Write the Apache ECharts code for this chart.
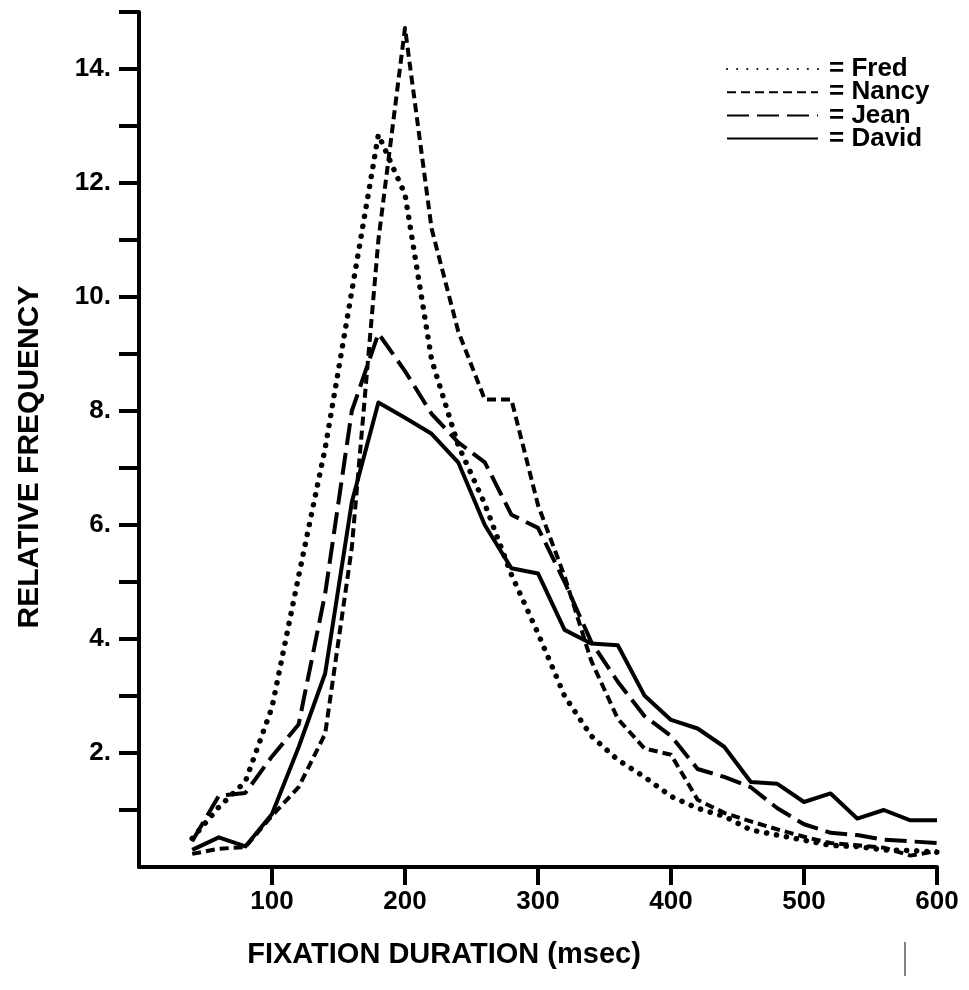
<!DOCTYPE html>
<html>
<head>
<meta charset="utf-8">
<script src="https://cdn.jsdelivr.net/npm/echarts@6/dist/echarts.min.js"></script>
<style>
html,body{margin:0;padding:0;background:#fff;}
#chart{width:969px;height:990px;}
</style>
</head>
<body>
<div id="chart"></div>
<script>
// Fixation duration (msec), 20 ms bins
var durations = [40,60,80,100,120,140,160,180,200,220,240,260,280,300,320,340,360,380,400,420,440,460,480,500,520,540,560,580,600];

var fred  = [0.5,1.05,1.5,2.8,5.1,7.35,10.1,12.85,11.8,8.9,7.4,6.37,5.13,4.1,3.0,2.3,1.88,1.58,1.24,1.03,0.89,0.65,0.56,0.47,0.38,0.36,0.3,0.29,0.26];
var nancy = [0.23,0.32,0.35,0.9,1.4,2.34,5.6,11.0,14.72,11.2,9.4,8.2,8.2,6.35,5.1,3.62,2.6,2.08,1.97,1.18,0.95,0.8,0.66,0.53,0.42,0.38,0.34,0.2,0.28];
var jean  = [0.45,1.25,1.3,1.94,2.5,4.8,8.0,9.36,8.7,7.95,7.45,7.1,6.18,5.95,5.0,3.95,3.25,2.65,2.3,1.72,1.58,1.4,1.03,0.75,0.6,0.56,0.48,0.45,0.42];
var david = [0.3,0.52,0.36,0.93,2.1,3.4,6.4,8.15,7.88,7.6,7.1,6.0,5.24,5.15,4.16,3.92,3.89,3.01,2.58,2.43,2.11,1.49,1.46,1.14,1.29,0.85,1.0,0.82,0.82];

var xTickValues = [100,200,300,400,500,600];
var yTickValues = [1,2,3,4,5,6,7,8,9,10,11,12,13,14,15];
var yLabelValues = [2,4,6,8,10,12,14];

var seriesNames = ['Fred','Nancy','Jean','David'];

function pairs(xs, ys){ return xs.map(function(x,i){ return [x, ys[i]]; }); }

var FONT = '"Liberation Sans", Arial, Helvetica, sans-serif';

var chart = echarts.init(document.getElementById('chart'), null, {renderer:'canvas'});

var option = {
  backgroundColor: '#ffffff',
  animation: false,
  grid: { left: 139, right: 32, top: 12, bottom: 123 },
  legend: {
    orient: 'vertical',
    left: 721,
    top: 51,
    itemWidth: 91,
    itemHeight: 14,
    itemGap: -2.8,
    itemStyle: { opacity: 0, borderWidth: 0 },
    formatter: function(n){ return '= ' + n; },
    textStyle: { fontFamily: FONT, fontWeight: 'bold', fontSize: 26, color: '#000', lineHeight: 23, padding: [0,0,0,6] },
    data: seriesNames
  },
  xAxis: {
    type: 'value',
    min: 0, max: 600, interval: 100,
    splitLine: { show: false },
    axisLine: { show: true, lineStyle: { color: '#000', width: 4 } },
    axisTick: { show: true, length: 18, lineStyle: { color: '#000', width: 4 }, customValues: xTickValues },
    axisLabel: { customValues: xTickValues, margin: 22, fontFamily: FONT, fontWeight: 'bold', fontSize: 26, color: '#000' }
  },
  yAxis: {
    type: 'value',
    min: 0, max: 15, interval: 1,
    splitLine: { show: false },
    axisLine: { show: true, lineStyle: { color: '#000', width: 4 } },
    axisTick: { show: true, length: 20, lineStyle: { color: '#000', width: 4 }, customValues: yTickValues },
    axisLabel: { customValues: yLabelValues, margin: 28, fontFamily: FONT, fontWeight: 'bold', fontSize: 26, color: '#000',
      formatter: function(v){ return v + '.'; } }
  },
  graphic: [
    { type: 'text', x: 444, y: 955, style: { text: 'FIXATION DURATION (msec)', align: 'center', verticalAlign: 'middle',
      font: 'bold 29px ' + FONT, fill: '#000' } },
    { type: 'text', x: 30, y: 457, rotation: Math.PI / 2, style: { text: 'RELATIVE FREQUENCY', align: 'center', verticalAlign: 'middle',
      font: 'bold 30px ' + FONT, fill: '#000' } },
    { type: 'line', shape: { x1: 905, y1: 942, x2: 905, y2: 976 }, style: { stroke: '#333', lineWidth: 1.2 } }
  ],
  series: [
    { name: 'Fred', type: 'line', symbol: 'none', data: pairs(durations, fred), z: 3,
      lineStyle: { color: '#000', width: 5.5, type: [0.1, 10], cap: 'round', join: 'round' }, itemStyle: { color: '#000' } },
    { name: 'Nancy', type: 'line', symbol: 'none', data: pairs(durations, nancy), z: 3,
      lineStyle: { color: '#000', width: 4, type: [9, 5], cap: 'butt', join: 'round' }, itemStyle: { color: '#000' } },
    { name: 'Jean', type: 'line', symbol: 'none', data: pairs(durations, jean), z: 3,
      lineStyle: { color: '#000', width: 4, type: [22, 8], cap: 'butt', join: 'round' }, itemStyle: { color: '#000' } },
    { name: 'David', type: 'line', symbol: 'none', data: pairs(durations, david), z: 3,
      lineStyle: { color: '#000', width: 4, type: 'solid', join: 'round' }, itemStyle: { color: '#000' } }
  ]
};
chart.setOption(option);
</script>
</body>
</html>
